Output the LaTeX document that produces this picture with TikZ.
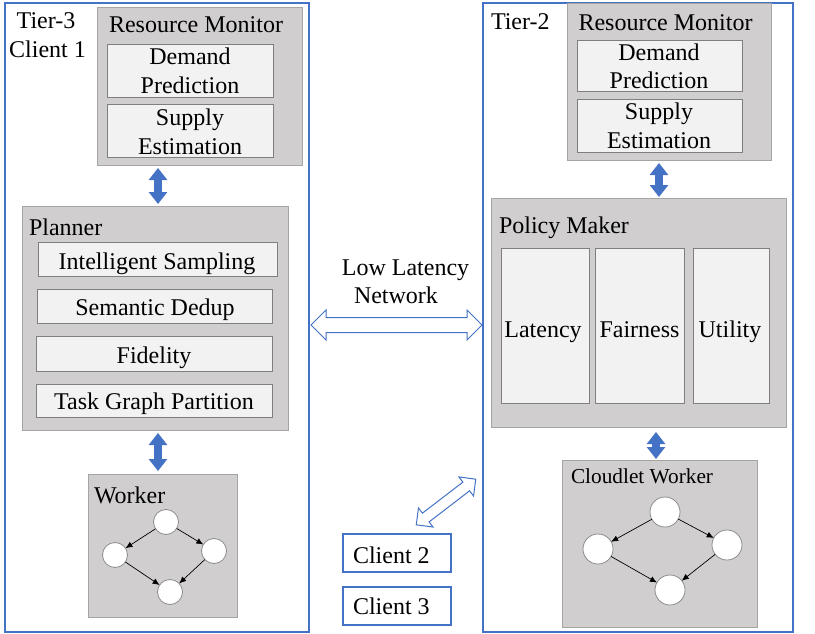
\documentclass[tikz,border=0pt]{standalone}
\usepackage{fontspec}
\setmainfont{Liberation Serif}
\usetikzlibrary{arrows.meta,shapes.arrows,calc}
\definecolor{tierblue}{HTML}{4472C4}
\definecolor{boxgray}{HTML}{D0CECE}
\definecolor{boxedge}{HTML}{A5A5A5}
\definecolor{subfill}{HTML}{F2F2F2}
\definecolor{subedge}{HTML}{7F7F7F}
\definecolor{circedge}{HTML}{8C8C8C}
\begin{document}
\begin{tikzpicture}[x=1pt,y=-1pt,
  every node/.style={inner sep=0pt, outer sep=0pt},
  wh/.style 2 args={minimum width=#1pt, minimum height=#2pt},
  tierbox/.style={draw=tierblue, line width=1.2pt, anchor=north west},
  graybox/.style={draw=boxedge, fill=boxgray, line width=1pt, anchor=north west},
  subbox/.style={draw=subedge, fill=subfill, line width=1pt, anchor=north west},
  clientbox/.style={draw=tierblue, line width=1.2pt, anchor=north west},
  lbl/.style={font=\fontsize{24}{28}\selectfont, anchor=base},
  lblw/.style={lbl, anchor=base west},
  smallc/.style={circle, draw=circedge, fill=white, line width=0.8pt, minimum size=25pt},
  bigc/.style={circle, draw=circedge, fill=white, line width=0.8pt, minimum size=30pt},
  dagedge/.style={-{Latex[length=7pt,width=6pt]}, black, line width=0.7pt},
  solidarrow/.style={draw=tierblue, line width=8pt,
     {Triangle[width=18pt,length=12pt]}-{Triangle[width=18pt,length=12pt]}},
  outarrow/.style={double arrow, draw=tierblue, fill=white, line width=1pt,
     double arrow tip angle=90}
]
\useasboundingbox (0,0) rectangle (815,634);

% ---------------- Tier-3 ----------------
\node[tierbox, wh={304}{629}] (t3) at (5,3) {};
\node[lbl] (t3a) at (46,29) {Tier-3};
\node[lbl] (t3b) at (47.5,58) {Client 1};

\node[graybox, wh={205}{157}] (rm3) at (97,8) {};
\node[lbl] (rm3l) at (196,33) {Resource Monitor};
\node[subbox, wh={166}{53}] (dp3) at (107,45) {};
\node[lbl] (dp3a) at (190,65) {Demand};
\node[lbl] (dp3b) at (190,94) {Prediction};
\node[subbox, wh={166}{52}] (se3) at (107,105) {};
\node[lbl] (se3a) at (190,126) {Supply};
\node[lbl] (se3b) at (190,154) {Estimation};

\node[graybox, wh={266}{224}] (pl3) at (22,206) {};
\node[lblw] (pl3l) at (29,235) {Planner};
\node[subbox, wh={239}{34}] (is3) at (38,242) {};
\node[lbl] (is3l) at (157,269) {Intelligent Sampling};
\node[subbox, wh={235}{34}] (sd3) at (37,289) {};
\node[lbl] (sd3l) at (155,315) {Semantic Dedup};
\node[subbox, wh={236}{35}] (fi3) at (36,336) {};
\node[lbl] (fi3l) at (154,363) {Fidelity};
\node[subbox, wh={236}{33}] (tg3) at (36,384) {};
\node[lbl] (tg3l) at (154,409) {Task Graph Partition};

\node[graybox, wh={149}{143}] (wk3) at (88,474) {};
\node[lblw] (wk3l) at (94,503) {Worker};
\node[smallc] (c3t) at (166,522) {};
\node[smallc] (c3l) at (115,555) {};
\node[smallc] (c3r) at (214,551) {};
\node[smallc] (c3b) at (170,592) {};
\draw[dagedge] (c3t) -- (c3l);
\draw[dagedge] (c3t) -- (c3r);
\draw[dagedge] (c3l) -- (c3b);
\draw[dagedge] (c3r) -- (c3b);

\coordinate (a1x) at (158,0);
\draw[solidarrow, shorten <=3pt, shorten >=2pt] (rm3.south -| a1x) -- (pl3.north -| a1x);
\draw[solidarrow, shorten <=3pt, shorten >=3pt] (pl3.south -| a1x) -- (wk3.north -| a1x);

% ---------------- Tier-2 ----------------
\node[tierbox, wh={310}{629}] (t2) at (483,3) {};
\node[lblw] (t2l) at (491,30) {Tier-2};

\node[graybox, wh={204}{156}] (rm2) at (567,4) {};
\node[lbl] (rm2l) at (665.5,31) {Resource Monitor};
\node[subbox, wh={165}{51}] (dp2) at (577,41) {};
\node[lbl] (dp2a) at (659,61) {Demand};
\node[lbl] (dp2b) at (659,89) {Prediction};
\node[subbox, wh={165}{52}] (se2) at (577,100) {};
\node[lbl] (se2a) at (659,120) {Supply};
\node[lbl] (se2b) at (659,149) {Estimation};

\node[graybox, wh={295}{229}] (pm2) at (491,198) {};
\node[lblw] (pm2l) at (499,233) {Policy Maker};
\node[subbox, wh={88}{155}] (la2) at (501,248) {};
\node[lbl] (la2l) at (543,337) {Latency};
\node[subbox, wh={89}{155}] (fa2) at (595,248) {};
\node[lbl] (fa2l) at (639.5,337) {Fairness};
\node[subbox, wh={76}{155}] (ut2) at (693,248) {};
\node[lbl] (ut2l) at (730,337) {Utility};

\node[graybox, wh={195}{167}] (cw2) at (562,460) {};
\node[lblw, font=\fontsize{21.3}{25}\selectfont] (cw2l) at (571,483) {Cloudlet Worker};
\node[bigc] (c2t) at (665,512) {};
\node[bigc] (c2l) at (598,549) {};
\node[bigc] (c2r) at (727,545) {};
\node[bigc] (c2b) at (670,590) {};
\draw[dagedge] (c2t) -- (c2l);
\draw[dagedge] (c2t) -- (c2r);
\draw[dagedge] (c2l) -- (c2b);
\draw[dagedge] (c2r) -- (c2b);

\coordinate (a3x) at (659,0);
\coordinate (a4x) at (656,0);
\draw[solidarrow, shorten <=3pt, shorten >=1pt] (rm2.south -| a3x) -- (pm2.north -| a3x);
\draw[solidarrow, shorten <=5pt, shorten >=1pt] (pm2.south -| a4x) -- (cw2.north -| a4x);

% ---------------- Middle ----------------
\node[lbl] (nl1) at (405.5,275) {Low Latency};
\node[lbl] (nl2) at (396,303) {Network};
\node[outarrow, minimum height=171pt, inner sep=7pt, double arrow head extend=7.5pt] (net) at (396.5,325) {};
\node[outarrow, minimum height=75pt, inner sep=5pt, double arrow head extend=6.5pt, rotate=37.5] (diag) at (446,502) {};

\node[clientbox, wh={108}{38}] (cl2) at (343,534) {};
\node[lblw] (cl2l) at (353,563) {Client 2};
\node[clientbox, wh={108}{38}] (cl3) at (343,587) {};
\node[lblw] (cl3l) at (353,614) {Client 3};
\end{tikzpicture}
\end{document}
